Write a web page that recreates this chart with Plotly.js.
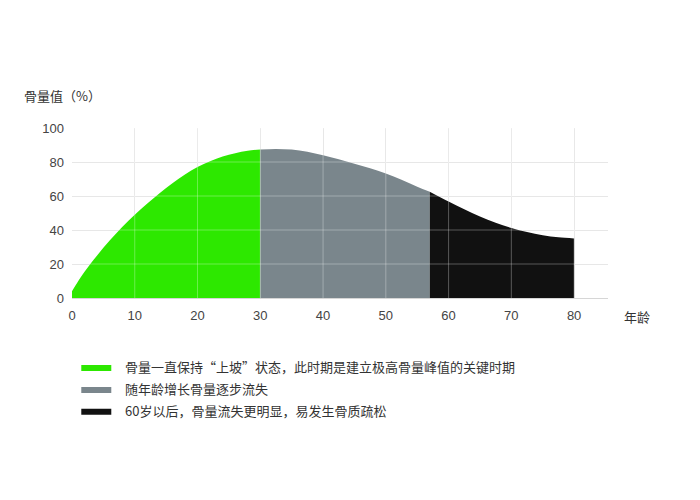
<!DOCTYPE html>
<html>
<head>
<meta charset="utf-8">
<script src="https://cdn.plot.ly/plotly-3.0.1.min.js"></script>
<style>html,body{margin:0;padding:0;background:#fff;}#chart{width:700px;height:500px;}</style>
</head>
<body>
<div id="chart"></div>
<script>
// Phase 1: bone mass rising (age 0–30)
const greenAge  = [0, 1, 2, 4, 6, 8, 10, 12, 14, 16, 18, 20, 22, 24, 26, 28, 30];
const greenMass = [4, 10, 15.5, 25, 33.8, 41.8, 49, 55.6, 61.8, 67.5, 72.6, 77, 80.5, 83.2, 85.2, 86.6, 87.4];
// Phase 2: gradual loss (age 30–57)
const grayAge  = [30, 32.5, 35, 37.5, 40, 42.5, 45, 47.5, 50, 52.5, 55, 57];
const grayMass = [87.4, 87.7, 87.3, 86, 83.9, 81.6, 79, 76.3, 73.2, 69.5, 65.4, 62.5];
// Phase 3: faster loss (age 57–80)
const blackAge  = [57, 60, 62.5, 65, 67.5, 70, 72.5, 75, 77.5, 80];
const blackMass = [62.5, 56.7, 52.2, 48, 44.2, 41.2, 38.8, 36.9, 35.7, 35];

const legendLabels = [
  '骨量一直保持“上坡”状态，此时期是建立极高骨量峰值的关键时期',
  '随年龄增长骨量逐步流失',
  '60岁以后，骨量流失更明显，易发生骨质疏松'
];
const xTicks = [0, 10, 20, 30, 40, 50, 60, 70, 80];
const yTicks = [0, 20, 40, 60, 80, 100];
const yAxisTitle = '骨量值（%）';
const xAxisTitle = '年龄';

const colors = ['#2de800', '#7a868c', '#111111'];
const font = 'Liberation Sans, Arial, Noto Sans CJK SC, sans-serif';
const cjk = 'Noto Sans CJK SC, Liberation Sans, sans-serif';

const series = [[greenAge, greenMass], [grayAge, grayMass], [blackAge, blackMass]];
const traces = series.map((s, i) => ({
  type: 'scatter', mode: 'lines',
  x: s[0], y: s[1],
  fill: 'tozeroy', fillcolor: colors[i],
  line: {color: colors[i], width: 0, shape: 'spline', smoothing: 1},
  name: '\u00a0\u00a0\u00a0' + legendLabels[i], legendgroup: 'g' + i,
  hoverinfo: 'skip'
}));

const gridOver = [];
xTicks.slice(1).forEach(v => gridOver.push({type: 'line', xref: 'x', yref: 'y', x0: v, x1: v, y0: 0, y1: 100,
  line: {color: 'rgba(255,255,255,0.3)', width: 1}, layer: 'above'}));
yTicks.slice(1).forEach(v => gridOver.push({type: 'line', xref: 'x', yref: 'y', x0: 0, x1: 85.4, y0: v, y1: v,
  line: {color: 'rgba(255,255,255,0.3)', width: 1}, layer: 'above'}));

const layout = {
  width: 700, height: 500,
  paper_bgcolor: '#fff', plot_bgcolor: '#fff',
  margin: {l: 72, r: 92, t: 128, b: 202},
  font: {family: font, size: 13, color: '#444'},
  showlegend: true,
  legend: {
    x: 0.008, xanchor: 'left', y: -0.318, yanchor: 'top',
    font: {family: cjk, size: 13, color: '#333'},
    tracegroupgap: 2, bgcolor: 'rgba(0,0,0,0)'
  },
  xaxis: {
    range: [0, 85.4], tickvals: xTicks, ticktext: xTicks.map(String),
    showgrid: true, gridcolor: '#e3e3e3', gridwidth: 1,
    zeroline: false, showline: false, ticks: '', ticklabelstandoff: 8,
    tickfont: {family: font, size: 13, color: '#444'}, fixedrange: true
  },
  yaxis: {
    range: [0, 100], tickvals: yTicks, ticktext: yTicks.map(String),
    showgrid: true, gridcolor: '#e3e3e3', gridwidth: 1,
    zeroline: true, zerolinecolor: '#d6d6d6', showline: false, ticks: '', ticklabelstandoff: 7,
    tickfont: {family: font, size: 13, color: '#444'}, fixedrange: true
  },
  shapes: gridOver,
  annotations: [
    {text: yAxisTitle, xref: 'paper', yref: 'paper', x: -0.094, y: 1.194, xanchor: 'left', yanchor: 'middle',
     showarrow: false, font: {family: cjk, size: 13, color: '#333'}},
    {text: xAxisTitle, xref: 'paper', yref: 'paper', x: 1.026, y: -0.106, xanchor: 'left', yanchor: 'middle',
     showarrow: false, font: {family: cjk, size: 13, color: '#333'}}
  ]
};

Plotly.newPlot('chart', traces, layout, {displayModeBar: false, staticPlot: true});
</script>
</body>
</html>
